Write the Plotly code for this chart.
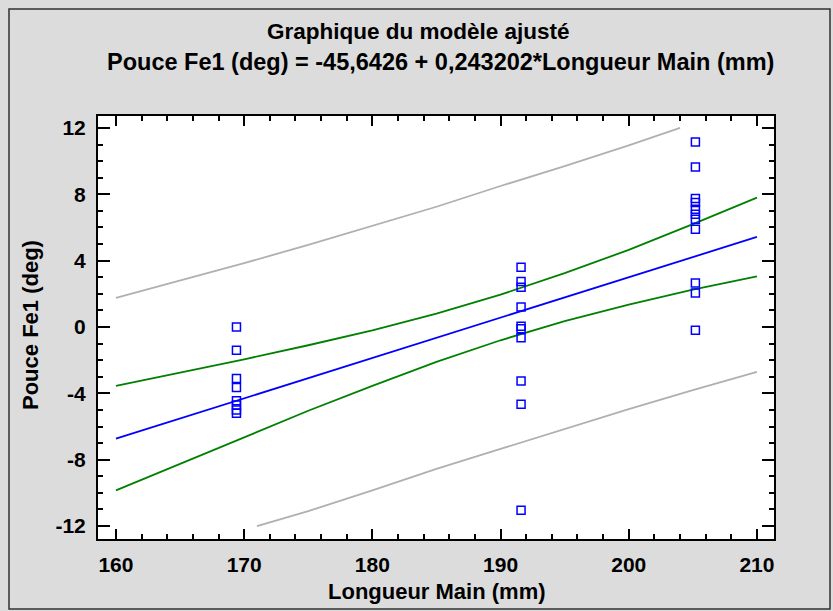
import plotly.graph_objects as go

# ---- data ----
x_left = [169.4] * 8
y_left = [0.0, -1.4, -3.1, -3.65, -4.45, -4.7, -5.0, -5.2]
x_mid = [191.6] * 10
y_mid = [3.6, 2.75, 2.4, 1.2, 0.05, -0.1, -0.65, -3.25, -4.65, -11.05]
x_right = [205.2] * 11
y_right = [11.15, 9.65, 7.75, 7.5, 7.1, 6.8, 6.5, 5.9, 2.65, 2.05, -0.2]

x_grid = [160, 165, 170, 175, 180, 185, 190, 195, 200, 205, 210]
fit_y = [-6.73, -5.51, -4.30, -3.08, -1.87, -0.65, 0.57, 1.78, 3.00, 4.22, 5.43]
conf_up = [-3.55, -2.75, -1.95, -1.10, -0.20, 0.80, 1.95, 3.25, 4.65, 6.20, 7.80]
conf_lo = [-9.85, -8.25, -6.65, -5.05, -3.55, -2.10, -0.80, 0.35, 1.35, 2.25, 3.05]

pred_up_x = [160, 165, 170, 175, 180, 185, 190, 195, 200, 204]
pred_up_y = [1.75, 2.8, 3.85, 4.95, 6.1, 7.25, 8.5, 9.7, 10.95, 12.0]
pred_lo_x = [171, 175, 180, 185, 190, 195, 200, 205, 210]
pred_lo_y = [-12.0, -11.1, -9.85, -8.55, -7.35, -6.15, -4.95, -3.8, -2.7]

x_ticks = [160, 170, 180, 190, 200, 210]
y_ticks = [-12, -8, -4, 0, 4, 8, 12]
y_ticktext = ["-12", "-8", "-4", "0", "4", "8", "12"]

BLUE, GREEN, GRAY = "#0000ff", "#008000", "#b0b0b0"
FONT = "Liberation Sans, Arial, sans-serif"

fig = go.Figure()
fig.add_trace(go.Scatter(x=pred_up_x, y=pred_up_y, mode="lines", line=dict(color=GRAY, width=1.8)))
fig.add_trace(go.Scatter(x=pred_lo_x, y=pred_lo_y, mode="lines", line=dict(color=GRAY, width=1.8)))
fig.add_trace(go.Scatter(x=x_grid, y=conf_up, mode="lines", line=dict(color=GREEN, width=1.8)))
fig.add_trace(go.Scatter(x=x_grid, y=conf_lo, mode="lines", line=dict(color=GREEN, width=1.8)))
fig.add_trace(go.Scatter(x=x_grid, y=fit_y, mode="lines", line=dict(color=BLUE, width=1.8)))
for xs, ys in [(x_left, y_left), (x_mid, y_mid), (x_right, y_right)]:
    fig.add_trace(go.Scatter(x=xs, y=ys, mode="markers",
                             marker=dict(symbol="square-open", size=8, color=BLUE,
                                         line=dict(width=1.5, color=BLUE))))

axis_common = dict(
    showgrid=False, zeroline=False, showline=True, linecolor="black", linewidth=2,
    mirror="allticks", ticks="inside", tickwidth=1.5, tickcolor="black",
    tickfont=dict(family=FONT, size=21, color="black", weight="bold"),
    ticklabelstandoff=6,
)
fig.update_xaxes(range=[158.6, 211.33], tickvals=x_ticks, ticklen=10,
                 minor=dict(ticks="inside", ticklen=5, tickwidth=1.5, tickcolor="black", dtick=2),
                 **axis_common)
fig.update_yaxes(range=[-12.78, 12.72], tickvals=y_ticks, ticktext=y_ticktext, ticklen=12,
                 minor=dict(ticks="inside", ticklen=5, tickwidth=1.5, tickcolor="black", dtick=1),
                 **axis_common)

W, H = 833, 611
L, R, T, B = 98, 59, 116, 72
pw, ph = W - L - R, H - T - B


def px(xp):
    return (xp - L) / pw


def py(yp):
    return (H - B - yp) / ph


def bold(size):
    return dict(family=FONT, size=size, color="black", weight="bold")


annos = [
    dict(text="Graphique du modèle ajusté", x=px(418), y=py(32), font=bold(22.5)),
    dict(text="Pouce Fe1 (deg) = -45,6426 + 0,243202*Longueur Main (mm)", x=px(440), y=py(62),
         font=bold(23.5)),
    dict(text="Longueur Main (mm)", x=px(437), y=py(591), font=bold(22)),
    dict(text="Pouce Fe1 (deg)", x=px(30), y=py(325), textangle=-90, font=bold(22)),
]
for a in annos:
    fig.add_annotation(xref="paper", yref="paper", showarrow=False,
                       xanchor="center", yanchor="middle", **a)

# outer frame of the chart
fig.add_shape(type="rect", xref="paper", yref="paper",
              x0=px(9), x1=px(830), y0=py(9), y1=py(609),
              line=dict(color="#303030", width=1.5), layer="below")

fig.update_layout(
    width=W, height=H, showlegend=False,
    margin=dict(l=L, r=R, t=T, b=B),
    paper_bgcolor="#dcdcdc", plot_bgcolor="white",
    font=dict(family=FONT),
)
fig.write_html("out.html", config={"displayModeBar": False},
               post_script="document.body.style.margin = '0';")
